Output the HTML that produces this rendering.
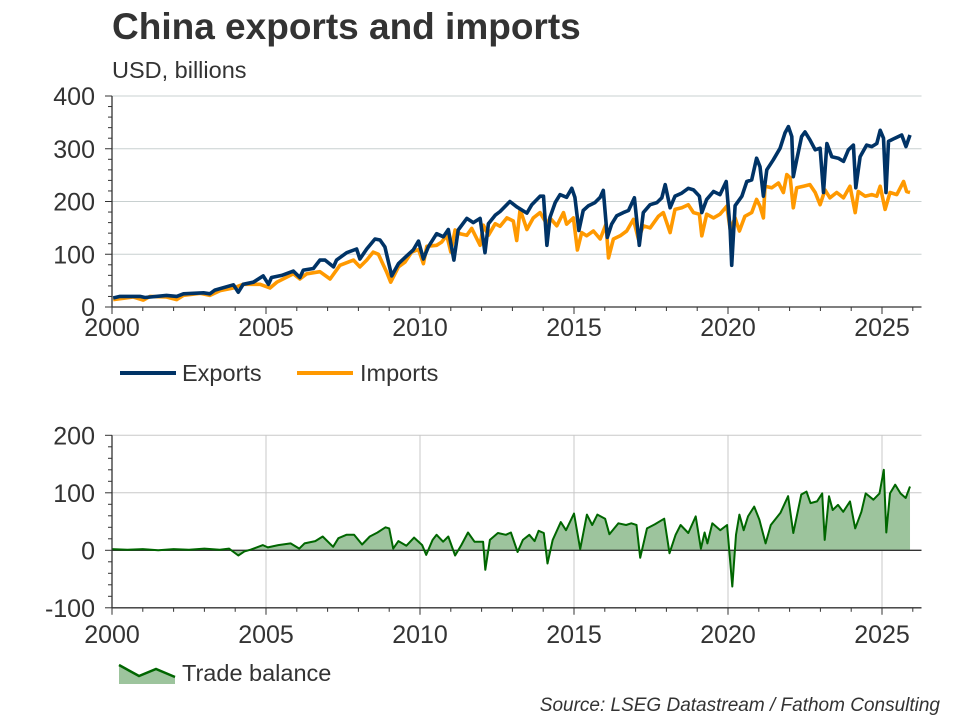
<!DOCTYPE html>
<html><head><meta charset="utf-8"><style>
body{margin:0;background:#fff;}
svg{display:block;font-family:"Liberation Sans",sans-serif;}
</style></head><body>
<svg id="c" width="960" height="720">
<text x="112" y="39" font-size="37" font-weight="bold" fill="#333">China exports and imports</text>
<text x="112" y="78" font-size="23.5" fill="#333">USD, billions</text>
<g id="topg"></g><g id="botg"></g>
<g><line x1="120" y1="373" x2="176" y2="373" stroke="#003366" stroke-width="4"/><text x="182" y="381" font-size="23.5" fill="#333">Exports</text></g>
<g><line x1="297" y1="373" x2="353" y2="373" stroke="#ff9900" stroke-width="4"/><text x="360" y="381" font-size="23.5" fill="#333">Imports</text></g>
<g><path d="M119,665 L139,676 L156,669 L175,677 L175,684 L119,684 Z" fill="#9dc49d"/><path d="M119,665 L139,676 L156,669 L175,677" fill="none" stroke="#006600" stroke-width="2.5"/><text x="182" y="681" font-size="23.5" fill="#333">Trade balance</text></g>
<text x="940" y="711" font-size="19" font-style="italic" text-anchor="end" fill="#333">Source: LSEG Datastream / Fathom Consulting</text>
</svg>
<script>
const expDates=[2000.04,2000.26,2000.91,2001.07,2001.77,2002.1,2002.32,2002.97,2003.18,2003.34,2003.94,2004.1,2004.26,2004.59,2004.91,2005.08,2005.18,2005.51,2005.89,2006.1,2006.21,2006.54,2006.75,2006.92,2007.19,2007.29,2007.62,2007.94,2008.05,2008.27,2008.54,2008.7,2008.86,2009.08,2009.3,2009.57,2009.78,2009.95,2010.11,2010.27,2010.54,2010.76,2010.92,2011.1,2011.24,2011.52,2011.73,2011.95,2012.11,2012.22,2012.44,2012.6,2012.92,2013.14,2013.47,2013.63,2013.9,2014.01,2014.12,2014.22,2014.39,2014.55,2014.76,2014.93,2015.03,2015.16,2015.3,2015.47,2015.68,2015.85,2015.95,2016.08,2016.22,2016.39,2016.6,2016.77,2016.96,2017.12,2017.25,2017.47,2017.69,2017.85,2017.96,2018.12,2018.28,2018.5,2018.71,2018.88,2019.07,2019.15,2019.31,2019.53,2019.74,2019.94,2020.07,2020.12,2020.23,2020.45,2020.61,2020.77,2020.93,2021.04,2021.15,2021.26,2021.47,2021.69,2021.85,2021.96,2022.07,2022.12,2022.23,2022.39,2022.5,2022.66,2022.83,2022.99,2023.1,2023.21,2023.37,2023.58,2023.75,2023.91,2024.07,2024.15,2024.29,2024.5,2024.67,2024.83,2024.94,2025.05,2025.13,2025.21,2025.42,2025.64,2025.78,2025.91];
const expVals=[17,20,20,18,22,20,25,27,25,32,42,28,43,47,59,43,56,60,68,56,70,73,89,89,76,89,103,110,91,110,129,127,114,59,82,97,108,125,91,114,139,133,147,89,146,168,160,168,103,158,174,181,200,190,178,194,210,210,117,170,198,213,208,225,208,145,183,192,198,208,221,132,157,173,179,183,207,117,179,194,198,207,232,188,210,216,225,222,210,179,204,219,213,238,145,79,192,210,238,241,282,266,210,260,279,301,330,342,323,247,279,323,332,317,298,301,217,310,285,282,276,298,307,226,285,307,304,310,335,320,217,314,320,326,304,326];
const impDates=[2000.04,2000.69,2001.02,2001.23,2001.77,2002.1,2002.32,2002.86,2003.18,2003.51,2003.94,2004.26,2004.81,2005.13,2005.35,2005.89,2006.1,2006.32,2006.75,2007.08,2007.4,2007.84,2008.05,2008.27,2008.48,2008.65,2008.92,2009.05,2009.3,2009.51,2009.73,2009.95,2010.11,2010.22,2010.54,2010.7,2010.87,2011.0,2011.14,2011.3,2011.52,2011.68,2011.95,2012.06,2012.22,2012.44,2012.6,2012.82,2013.03,2013.14,2013.25,2013.47,2013.68,2013.9,2014.12,2014.22,2014.44,2014.66,2014.76,2014.98,2015.11,2015.25,2015.41,2015.63,2015.85,2016.04,2016.12,2016.28,2016.5,2016.71,2016.93,2017.09,2017.25,2017.47,2017.74,2017.9,2018.12,2018.28,2018.5,2018.71,2018.88,2019.07,2019.15,2019.31,2019.53,2019.74,2019.96,2020.07,2020.23,2020.37,2020.55,2020.77,2020.93,2021.04,2021.15,2021.2,2021.42,2021.64,2021.8,2021.91,2022.02,2022.12,2022.23,2022.45,2022.66,2022.83,2022.99,2023.15,2023.31,2023.53,2023.75,2023.96,2024.13,2024.23,2024.45,2024.67,2024.83,2024.94,2025.1,2025.26,2025.48,2025.7,2025.8,2025.91];
const impVals=[14,19,13,20,19,14,22,26,22,31,36,43,43,36,47,63,53,63,67,53,79,89,76,89,104,100,66,47,76,85,104,109,82,115,117,123,136,104,146,139,136,149,117,155,136,158,153,169,163,126,185,147,169,179,157,169,154,179,157,169,108,141,135,144,129,157,93,129,135,144,166,129,154,150,172,179,141,185,188,194,179,176,135,176,169,176,191,147,169,144,172,179,204,191,169,229,226,235,217,251,245,188,226,229,232,217,194,222,207,217,207,229,179,219,210,213,210,229,185,217,213,238,219,217];
const balDates=[2000.0,2000.5,2001.0,2001.5,2002.0,2002.5,2003.0,2003.5,2003.8,2004.1,2004.3,2004.5,2004.9,2005.06,2005.4,2005.8,2006.08,2006.25,2006.6,2006.84,2007.18,2007.35,2007.61,2007.86,2008.12,2008.37,2008.62,2008.88,2009.0,2009.13,2009.3,2009.56,2009.81,2010.07,2010.2,2010.41,2010.54,2010.75,2010.92,2011.14,2011.34,2011.56,2011.77,2012.05,2012.12,2012.27,2012.53,2012.79,2012.95,2013.17,2013.34,2013.55,2013.72,2013.85,2014.02,2014.14,2014.31,2014.57,2014.74,2015.0,2015.2,2015.42,2015.59,2015.76,2016.01,2016.15,2016.44,2016.69,2016.86,2017.03,2017.15,2017.37,2017.62,2017.93,2018.1,2018.3,2018.46,2018.71,2018.95,2019.12,2019.24,2019.33,2019.49,2019.75,2019.97,2020.14,2020.26,2020.37,2020.51,2020.65,2020.85,2021.02,2021.22,2021.39,2021.7,2021.95,2022.12,2022.38,2022.55,2022.68,2022.89,2023.06,2023.14,2023.28,2023.4,2023.57,2023.74,2023.96,2024.13,2024.33,2024.47,2024.72,2024.92,2025.06,2025.14,2025.26,2025.43,2025.6,2025.77,2025.91];
const balVals=[2,1,2,0,2,1,3,1,3,-9,-2,1,9,5,9,12,3,12,16,24,6,21,27,27,10,24,31,40,38,3,16,8,22,9,-8,18,27,15,24,-9,9,31,15,15,-34,18,30,27,31,-3,18,27,16,34,30,-23,18,49,35,64,2,62,44,62,55,28,47,44,47,44,-13,38,45,55,-5,27,44,30,59,3,31,12,47,35,44,-63,27,62,35,59,76,53,12,44,65,94,30,97,102,82,85,99,18,94,70,79,67,85,38,67,99,88,99,140,31,99,114,99,91,111];
const topTicks=[0,100,200,300,400];
const botTicks=[-100,0,100,200];
const yearTicks=[2000,2005,2010,2015,2020,2025];

const NS='http://www.w3.org/2000/svg';
function mk(p,t,a){const e=document.createElementNS(NS,t);for(const k in a)e.setAttribute(k,a[k]);p.appendChild(e);return e;}
const X0=112,XE=921.5,PY=30.8;
const xs=y=>X0+(y-2000)*PY;
const yt=v=>307-v*0.5275;
const yb=v=>550.3-v*0.575;
const topG=document.getElementById('topg'), botG=document.getElementById('botg');

topTicks.forEach(v=>{
  if(v>0){const g=mk(topG,'line',{x1:X0,x2:XE,y1:yt(v),y2:yt(v),stroke:'#c8d0d0','stroke-width':1});
  
  }
  const t=mk(topG,'text',{x:95,y:yt(v)+9,'font-size':25,'text-anchor':'end',fill:'#333'});t.textContent=v;
  
  
});
for(let v=0;v<=400;v+=20){mk(topG,'line',{x1:X0-(v%100?4:7),x2:X0,y1:yt(v),y2:yt(v),stroke:'#333','stroke-width':1});}
for(let y=2000;y<=2026;y++){mk(topG,'line',{x1:xs(y),x2:xs(y),y1:307,y2:307+(y%5?4:7),stroke:'#333','stroke-width':1});}
yearTicks.forEach(y=>{const t=mk(topG,'text',{x:xs(y),y:336,'font-size':25,'text-anchor':'middle',fill:'#333'});t.textContent=y;
  
  });
function path(d,v,sx,sy){return d.map((x,i)=>(i?'L':'M')+sx(x).toFixed(1)+','+sy(v[i]).toFixed(1)).join(' ');}
const ip=mk(topG,'path',{d:path(impDates,impVals,xs,yt),fill:'none',stroke:'#ff9900','stroke-width':3.6,'stroke-linejoin':'round'});


const ep=mk(topG,'path',{d:path(expDates,expVals,xs,yt),fill:'none',stroke:'#003366','stroke-width':3.6,'stroke-linejoin':'round'});


mk(topG,'line',{x1:X0,x2:X0,y1:yt(400),y2:307,stroke:'#333','stroke-width':1.3});
mk(topG,'line',{x1:X0,x2:XE,y1:307,y2:307,stroke:'#333','stroke-width':1.3});

botTicks.forEach(v=>{
  if(v>0){const g=mk(botG,'line',{x1:X0,x2:XE,y1:yb(v),y2:yb(v),stroke:'#c8c8c8','stroke-width':1});
  
  }
  const t=mk(botG,'text',{x:95,y:yb(v)+9,'font-size':25,'text-anchor':'end',fill:'#333'});t.textContent=v;
  
  
});
yearTicks.forEach(y=>{if(y>2000)mk(botG,'line',{x1:xs(y),x2:xs(y),y1:yb(200),y2:yb(-100),stroke:'#c8c8c8','stroke-width':1});});
for(let v=-100;v<=200;v+=20){mk(botG,'line',{x1:X0-(v%100?4:7),x2:X0,y1:yb(v),y2:yb(v),stroke:'#333','stroke-width':1});}
for(let y=2000;y<=2026;y++){mk(botG,'line',{x1:xs(y),x2:xs(y),y1:yb(-100),y2:yb(-100)+(y%5?4:7),stroke:'#333','stroke-width':1});}
yearTicks.forEach(y=>{const t=mk(botG,'text',{x:xs(y),y:643,'font-size':25,'text-anchor':'middle',fill:'#333'});t.textContent=y;
  
  });
const bl=path(balDates,balVals,xs,yb);
const ba=mk(botG,'path',{d:bl+' L'+xs(balDates[balDates.length-1])+','+yb(0)+' L'+xs(balDates[0])+','+yb(0)+' Z',fill:'#9dc49d'});


mk(botG,'line',{x1:X0,x2:XE,y1:yb(0),y2:yb(0),stroke:'#333','stroke-width':1.3});
const bp=mk(botG,'path',{d:bl,fill:'none',stroke:'#006600','stroke-width':2,'stroke-linejoin':'round'});


mk(botG,'line',{x1:X0,x2:X0,y1:yb(200),y2:yb(-100),stroke:'#333','stroke-width':1.3});
mk(botG,'line',{x1:X0,x2:XE,y1:yb(-100),y2:yb(-100),stroke:'#333','stroke-width':1.3});
</script>
</body></html>
